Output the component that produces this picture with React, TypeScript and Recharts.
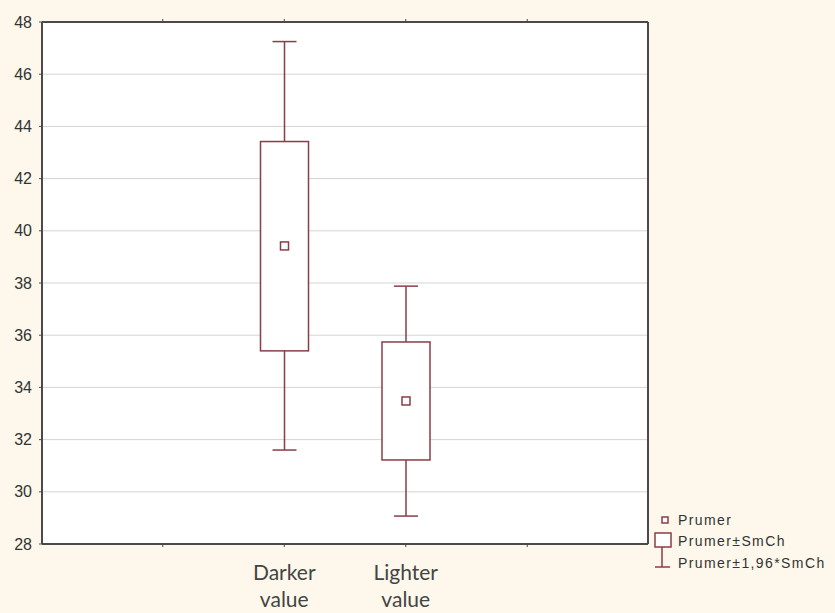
import React from "react";
import { ComposedChart, Bar, XAxis, YAxis, CartesianGrid, Legend } from "recharts";

const categories = ["", "Darker value", "Lighter value", " "];
const whiskerLow = [null, 31.6, 29.07, null];
const whiskerHigh = [null, 47.25, 37.88, null];
const boxLow = [null, 35.4, 31.22, null];
const boxHigh = [null, 43.42, 35.74, null];
const means = [null, 39.42, 33.48, null];
const yTicks = [28, 30, 32, 34, 36, 38, 40, 42, 44, 46, 48];
const legendLabels = ["Prumer", "Prumer±SmCh", "Prumer±1,96*SmCh"];

const data = categories.map((name, i) => ({
  name,
  whisker: whiskerLow[i] == null ? null : [whiskerLow[i], whiskerHigh[i]],
  boxLow: boxLow[i],
  boxHigh: boxHigh[i],
  mean: means[i],
}));

const RED = "#8a3d47";
const FRAME = "#4a4a4a";

const BoxShape = (props: any) => {
  const { x, y, width, height, payload } = props;
  if (!payload || !payload.whisker || !isFinite(height) || height <= 0) return <g />;
  const [lo, hi] = payload.whisker;
  const k = height / (hi - lo);
  const py = (v: number) => y + (hi - v) * k;
  const cx = x + width / 2;
  const cap = width / 4;
  const bTop = py(payload.boxHigh);
  const bBot = py(payload.boxLow);
  const my = py(payload.mean);
  return (
    <g>
      <line x1={cx} x2={cx} y1={y} y2={y + height} stroke={RED} strokeWidth={1.5} />
      <line x1={cx - cap} x2={cx + cap} y1={y} y2={y} stroke={RED} strokeWidth={1.5} />
      <line x1={cx - cap} x2={cx + cap} y1={y + height} y2={y + height} stroke={RED} strokeWidth={1.5} />
      <rect x={x} y={bTop} width={width} height={bBot - bTop} fill="#fff" stroke={RED} strokeWidth={1.5} />
      <rect x={cx - 4} y={my - 4} width={8} height={8} fill="#fff" stroke={RED} strokeWidth={1.5} />
    </g>
  );
};

const XTick = (props: any) => {
  const { x, y, payload } = props;
  const v = String(payload.value || "").trim();
  if (!v) return <g />;
  const [l1, l2] = v.split(" ");
  return (
    <text x={x} y={y} textAnchor="middle" fill="#444" fontFamily="Lato" fontSize={21}>
      <tspan x={x} dy={31}>{l1}</tspan>
      <tspan x={x} dy={27}>{l2}</tspan>
    </text>
  );
};

const NoTick = () => <g />;

const LegendContent = () => (
  <svg width={185} height={70} style={{ display: "block" }}>
    <rect x={12} y={9} width={6} height={6} fill="#fff" stroke={RED} strokeWidth={1.5} />
    <rect x={5} y={25} width={16} height={14} fill="#fff" stroke={RED} strokeWidth={1.5} />
    <line x1={12} x2={12} y1={39} y2={59} stroke={RED} strokeWidth={1.5} />
    <line x1={5} x2={20} y1={59} y2={59} stroke={RED} strokeWidth={1.5} />
    {legendLabels.map((t, i) => (
      <text key={t} x={28} y={[17, 38, 60][i]} fontFamily="Arial" fontSize={14} letterSpacing={1.4} fill="#333">
        {t}
      </text>
    ))}
  </svg>
);

export default function App() {
  return (
    <div style={{ position: "absolute", left: 0, top: 0, width: 835, height: 613, background: "#FDF8EB" }}>
      <ComposedChart width={835} height={613} data={data} margin={{ top: 20, right: 185, bottom: 0, left: 0 }}>
        <CartesianGrid vertical={false} stroke="#d4d4d4" fill="#ffffff" />
        <XAxis
          dataKey="name"
          padding={{ left: 60, right: 60 }}
          height={69}
          axisLine={{ stroke: FRAME, strokeWidth: 2 }}
          tickLine={{ stroke: FRAME }}
          tickSize={3}
          interval={0}
          tick={<XTick />}
        />
        <XAxis
          xAxisId="top"
          orientation="top"
          dataKey="name"
          padding={{ left: 60, right: 60 }}
          height={2}
          axisLine={{ stroke: FRAME, strokeWidth: 2 }}
          tickLine={{ stroke: FRAME }}
          tickSize={3}
          interval={0}
          tick={<NoTick />}
        />
        <YAxis
          domain={[28, 48]}
          ticks={yTicks}
          width={42}
          axisLine={{ stroke: FRAME, strokeWidth: 2 }}
          tickLine={{ stroke: FRAME }}
          tickSize={3}
          tickMargin={7}
          tick={{ fill: "#333", fontFamily: "Arial", fontSize: 16 }}
          allowDataOverflow
        />
        <YAxis
          yAxisId="right"
          orientation="right"
          domain={[28, 48]}
          ticks={yTicks}
          width={2}
          axisLine={{ stroke: FRAME, strokeWidth: 2 }}
          tickLine={false}
          tick={<NoTick />}
        />
        <Bar
          xAxisId="top"
          yAxisId="right"
          dataKey="whisker"
          barSize={48}
          isAnimationActive={false}
          shape={<NoTick />}
          legendType="none"
        />
        <Bar dataKey="whisker" barSize={48} isAnimationActive={false} shape={<BoxShape />} />
        <Legend
          layout="horizontal"
          verticalAlign="middle"
          align="center"
          content={<LegendContent />}
          wrapperStyle={{ position: "absolute", left: 650, top: 508, width: 185, height: 70 }}
        />
      </ComposedChart>
    </div>
  );
}
